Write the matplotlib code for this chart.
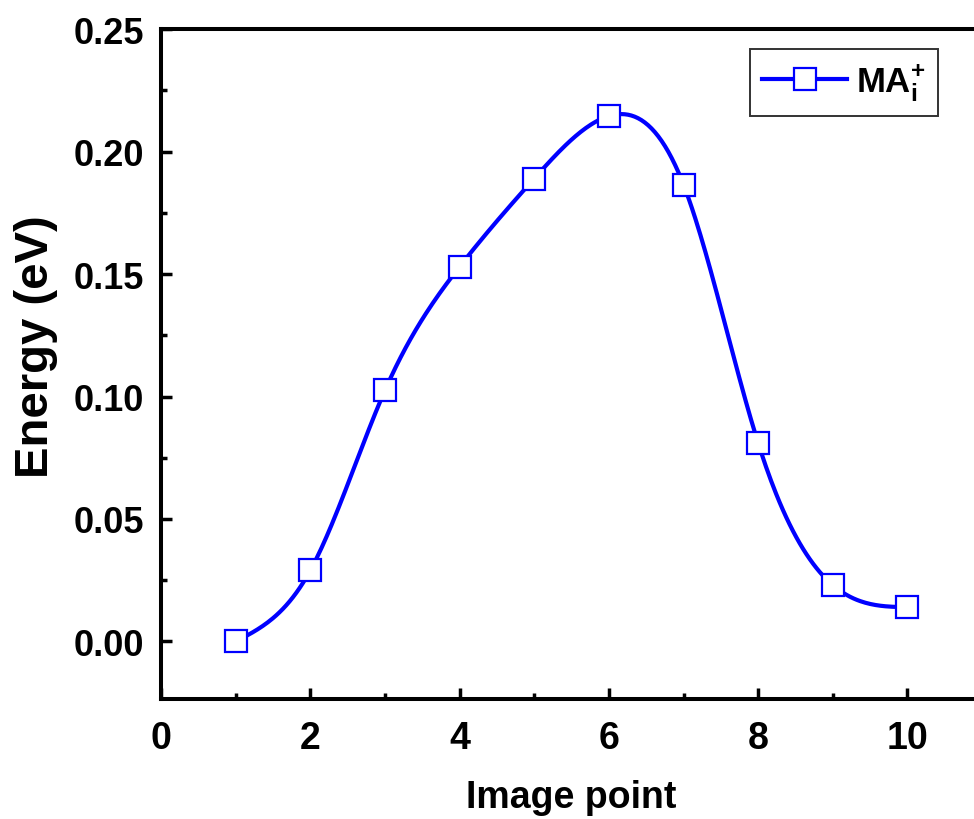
import numpy as np
import matplotlib
matplotlib.use("Agg")
import matplotlib.pyplot as plt
from matplotlib.ticker import MultipleLocator, FixedLocator

plt.rcParams["font.family"] = ["Liberation Sans", "DejaVu Sans"]
plt.rcParams["font.weight"] = "bold"
plt.rcParams["mathtext.fontset"] = "custom"
plt.rcParams["mathtext.rm"] = "Liberation Sans:bold"
plt.rcParams["mathtext.bf"] = "Liberation Sans:bold"
plt.rcParams["mathtext.it"] = "Liberation Sans:bold"

image_point = [1, 2, 3, 4, 5, 6, 7, 8, 9, 10]
energy = [0.0, 0.029, 0.1025, 0.153, 0.189, 0.2145, 0.1865, 0.081, 0.023, 0.014]
series_label = r"$\mathbf{MA}_{\mathbf{i}}^{\mathbf{+}}$"
x_major = [0, 2, 4, 6, 8, 10]


def natural_spline(x, y, xs):
    """Natural cubic spline through (x, y), evaluated at xs."""
    x = np.asarray(x, float)
    y = np.asarray(y, float)
    n = len(x)
    h = np.diff(x)
    A = np.zeros((n, n))
    b = np.zeros(n)
    A[0, 0] = A[-1, -1] = 1.0
    for i in range(1, n - 1):
        A[i, i - 1] = h[i - 1]
        A[i, i] = 2 * (h[i - 1] + h[i])
        A[i, i + 1] = h[i]
        b[i] = 3 * ((y[i + 1] - y[i]) / h[i] - (y[i] - y[i - 1]) / h[i - 1])
    c = np.linalg.solve(A, b)
    bb = (y[1:] - y[:-1]) / h - h * (2 * c[:-1] + c[1:]) / 3
    d = (c[1:] - c[:-1]) / (3 * h)
    idx = np.clip(np.searchsorted(x, xs) - 1, 0, n - 2)
    dx = xs - x[idx]
    return y[idx] + bb[idx] * dx + c[idx] * dx ** 2 + d[idx] * dx ** 3


xs = np.linspace(image_point[0], image_point[-1], 400)
ys = natural_spline(image_point, energy, xs)

fig = plt.figure(figsize=(9.74, 8.2), dpi=100)
# right spine sits just past the image edge (reference is cropped there)
ax = fig.add_axes([0.1653, 0.1463, 0.843, 0.817])

blue = "#0000FF"
ax.plot(xs, ys, color=blue, lw=3.0, zorder=2)
ax.plot(image_point, energy, ls="none", marker="s", ms=15.5,
        mfc="white", mec=blue, mew=1.6, zorder=3)
# legend proxy: line + marker
ax.plot([], [], color=blue, lw=3.0, marker="s", ms=15.5, mfc="white",
        mec=blue, mew=1.6, label=series_label)

ax.set_xlim(0, 11)
ax.set_ylim(-0.0235, 0.25)
ax.xaxis.set_major_locator(FixedLocator(x_major))
ax.xaxis.set_minor_locator(FixedLocator([1, 3, 5, 7, 9]))
ax.yaxis.set_major_locator(MultipleLocator(0.05))
ax.yaxis.set_minor_locator(MultipleLocator(0.025))
ax.yaxis.set_major_formatter(plt.FuncFormatter(lambda v, p: f"{v:.2f}"))

for s in ax.spines.values():
    s.set_linewidth(2.9)
ax.tick_params(which="major", direction="in", length=8, width=2.5,
               labelsize=26, pad=12)
ax.tick_params(axis="x", which="major", labelsize=27, pad=15)
ax.tick_params(which="minor", direction="in", length=4.5, width=2.5)
ax.tick_params(top=False, right=False, which="both")
for lab in ax.get_xticklabels() + ax.get_yticklabels():
    lab.set_fontweight("bold")

ax.set_xlabel("Image point", fontsize=27, fontweight="bold", labelpad=17)
ax.set_ylabel("Energy (eV)", fontsize=34, fontweight="bold")
ax.yaxis.set_label_coords(-0.126, 0.527)

leg = ax.legend(loc="upper right", bbox_to_anchor=(938 / 974, 1 - 50 / 820),
                bbox_transform=fig.transFigure,
                fontsize=25, frameon=True, fancybox=False,
                handlelength=2.45, handletextpad=0.25, borderpad=0.36,
                borderaxespad=0)
leg.get_frame().set_edgecolor("black")
leg.get_frame().set_linewidth(1.4)

fig.savefig("out.png", dpi=100)
